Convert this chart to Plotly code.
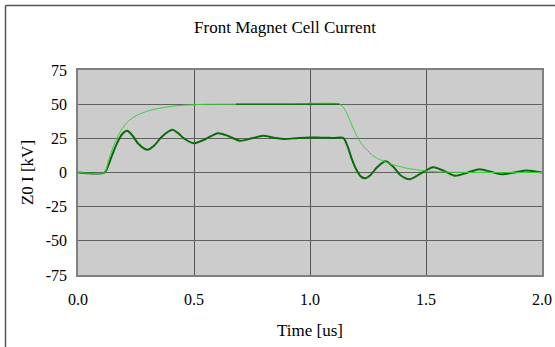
import plotly.graph_objects as go

# Light green (reference / ideal) waveform
ref_t = [0.0, 0.115, 0.13, 0.15, 0.17, 0.19, 0.21, 0.25, 0.30, 0.35, 0.40, 0.45, 0.50, 0.55, 0.60,
         0.70, 0.90, 1.128, 1.15, 1.171, 1.19, 1.207, 1.225, 1.243, 1.27, 1.30, 1.315, 1.35, 1.387,
         1.42, 1.459, 1.50, 1.55, 1.60, 1.70, 2.0]
ref_v = [0, 0, 8, 18, 26, 32, 36.5, 41.5, 45, 47, 48.3, 49.2, 49.6, 49.9, 50,
         50, 50, 50, 46, 38.5, 31, 25, 20.5, 17, 12.5, 9.5, 8.5, 6, 4.4,
         3, 2, 1.1, 0.5, 0.2, 0, 0]

# Flat-top segment (dark)
flat_t = [0.68, 1.128]
flat_v = [50, 50]

# Dark green (measured) oscillating waveform
meas_t = [0.0, 0.115, 0.13, 0.15, 0.17, 0.19, 0.212, 0.235, 0.26, 0.299, 0.33, 0.36, 0.407, 0.43,
          0.46, 0.499, 0.55, 0.603, 0.65, 0.697, 0.75, 0.797, 0.845, 0.891, 0.95, 1.0, 1.05, 1.1,
          1.143, 1.16, 1.18, 1.20, 1.22, 1.239, 1.26, 1.29, 1.326, 1.36, 1.39, 1.43, 1.48, 1.531,
          1.58, 1.624, 1.68, 1.731, 1.78, 1.825, 1.88, 1.933, 2.0]
meas_v = [0, 0, 5, 14, 22, 28, 30.5, 27, 21, 16.6, 20, 26, 31.2, 29,
          24.5, 21.4, 24.5, 28.8, 26.5, 23.3, 25, 26.8, 25.5, 24.5, 25.3, 25.7, 25.4, 25.3,
          25.3, 20, 10, 2, -3, -4.2, -2, 4, 8.3, 4, -2, -4.9, -0.5, 3.9,
          1, -2.4, 0, 2.4, 0.5, -1.2, 0, 1.5, 0]

x_ticks = [0.0, 0.5, 1.0, 1.5, 2.0]
y_ticks = [-75, -50, -25, 0, 25, 50, 75]

FONT = "Liberation Serif"

fig = go.Figure()
fig.add_trace(go.Scatter(x=meas_t, y=meas_v, mode="lines",
                         line=dict(color="#0b6b0b", width=2, shape="spline", smoothing=0.8),
                         showlegend=False))
fig.add_trace(go.Scatter(x=ref_t, y=ref_v, mode="lines",
                         line=dict(color="#3dcc3d", width=1, shape="spline", smoothing=0.6),
                         showlegend=False))
fig.add_trace(go.Scatter(x=flat_t, y=flat_v, mode="lines",
                         line=dict(color="#1a6e1a", width=1.5),
                         showlegend=False))

L, R, T, B = 78, 13, 70, 72
W, H = 555, 347
pw, ph = W - L - R, H - T - B

def px(x):
    return (x - L) / pw

def py(y):
    return (H - B - y) / ph

# outer frame (left and top edges visible)
fig.add_shape(type="line", xref="paper", yref="paper", x0=px(5.5), x1=px(560), y0=py(5.5), y1=py(5.5),
              line=dict(color="#555555", width=1.5))
fig.add_shape(type="line", xref="paper", yref="paper", x0=px(5.5), x1=px(5.5), y0=py(5.5), y1=py(360),
              line=dict(color="#555555", width=1.5))

tickfont = dict(family=FONT, size=16, color="black")

fig.update_layout(
    width=W, height=H,
    margin=dict(l=L, r=R, t=T, b=B, autoexpand=False),
    paper_bgcolor="white",
    plot_bgcolor="#cccccc",
    font=dict(family=FONT, size=16, color="black"),
    title=dict(text="Front Magnet Cell Current", x=285 / W, xanchor="center",
               y=1 - 27 / H, yanchor="middle", font=dict(family=FONT, size=17, color="black")),
    xaxis=dict(range=[0, 2], tickvals=x_ticks, ticktext=[f"{v:.1f}" for v in x_ticks],
               tickfont=tickfont, automargin=False,
               showgrid=True, gridcolor="#555555", gridwidth=1,
               showline=True, linecolor="#808080", linewidth=1.5, mirror=True,
               zeroline=False, ticks="", ticklabelstandoff=9,
               title=dict(text="Time [us]", font=dict(family=FONT, size=17), standoff=17)),
    yaxis=dict(range=[-75, 75], tickvals=y_ticks, ticktext=[str(v) for v in y_ticks],
               tickfont=tickfont, automargin=False,
               showgrid=True, gridcolor="#606060", gridwidth=1,
               showline=True, linecolor="#808080", linewidth=1.5, mirror=True,
               zeroline=False, ticks="", ticklabelstandoff=6,
               title=dict(text="Z0 I [kV]", font=dict(family=FONT, size=17), standoff=8)),
)

fig.write_html("out.html")
